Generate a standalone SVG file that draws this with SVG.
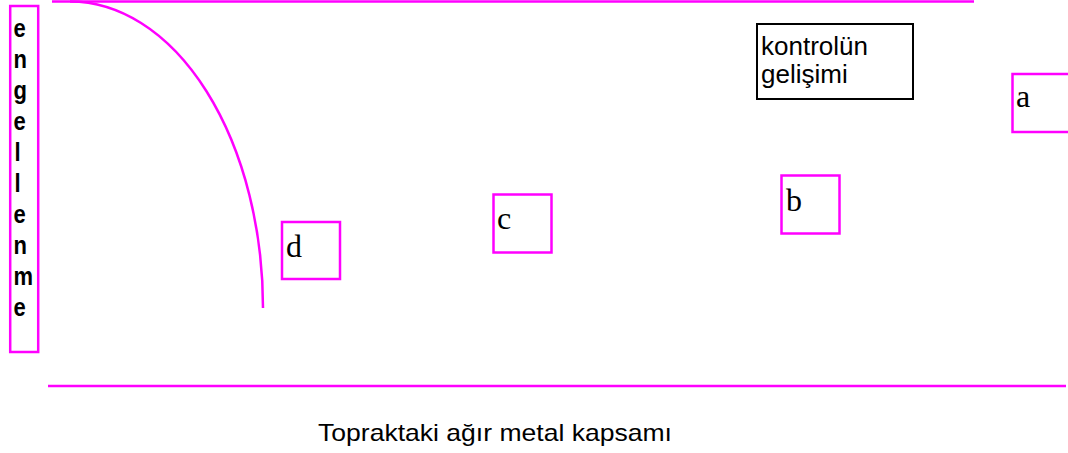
<svg xmlns="http://www.w3.org/2000/svg" width="1068" height="453" viewBox="0 0 1068 453">
<style>
.mg{fill:none;stroke:#ff00ff;stroke-width:2.5}
.bk{fill:#ffffff;stroke:#000000;stroke-width:2}
.sans{font-family:"Liberation Sans",Arial,sans-serif;fill:#000}
.vert{font-family:"Liberation Sans",Arial,sans-serif;font-weight:bold;font-size:22px;fill:#000}
.ser{font-family:"Liberation Serif","Times New Roman",serif;font-size:32px;fill:#000}
</style>
<rect width="1068" height="453" fill="#ffffff"/>
<g id="connectors">
<line class="mg" x1="52" y1="1.5" x2="974" y2="1.5"/>
<line class="mg" x1="48" y1="386" x2="1066" y2="386"/>
<path class="mg" d="M70 1.5 A193 306.5 0 0 1 263 308"/>
</g>
<g id="engelleme">
<rect class="mg" x="10.2" y="6" width="28" height="346"/>
<g transform="scale(1,1.2)">
<text class="vert" x="13.5" y="30.8">e</text>
<text class="vert" x="13.5" y="56.7">n</text>
<text class="vert" x="13.5" y="82.5">g</text>
<text class="vert" x="13.5" y="108.3">e</text>
<text class="vert" x="14.5" y="134.2">l</text>
<text class="vert" x="14.5" y="160">l</text>
<text class="vert" x="13.5" y="185.8">e</text>
<text class="vert" x="13.5" y="211.7">n</text>
<text class="vert" x="13.5" y="237.5">m</text>
<text class="vert" x="13.5" y="263.3">e</text>
</g>
</g>
<g id="kontrol">
<rect class="bk" x="757" y="24" width="156" height="75"/>
<text class="sans" font-size="26" x="761" y="55">kontrolün</text>
<text class="sans" font-size="26" x="761" y="83">gelişimi</text>
</g>
<g id="node-a">
<rect class="mg" x="1012.5" y="74" width="60" height="58"/>
<text class="ser" x="1016" y="107">a</text>
</g>
<g id="node-b">
<rect class="mg" x="781.5" y="175.5" width="58" height="58"/>
<text class="ser" x="786" y="211">b</text>
</g>
<g id="node-c">
<rect class="mg" x="493.5" y="194.5" width="58" height="58"/>
<text class="ser" x="497" y="229">c</text>
</g>
<g id="node-d">
<rect class="mg" x="282" y="222" width="58" height="57"/>
<text class="ser" x="286" y="257">d</text>
</g>
<g id="axis-label">
<text class="sans" font-size="24" x="318" y="441" textLength="354" lengthAdjust="spacingAndGlyphs">Topraktaki ağır metal kapsamı</text>
</g>
</svg>
